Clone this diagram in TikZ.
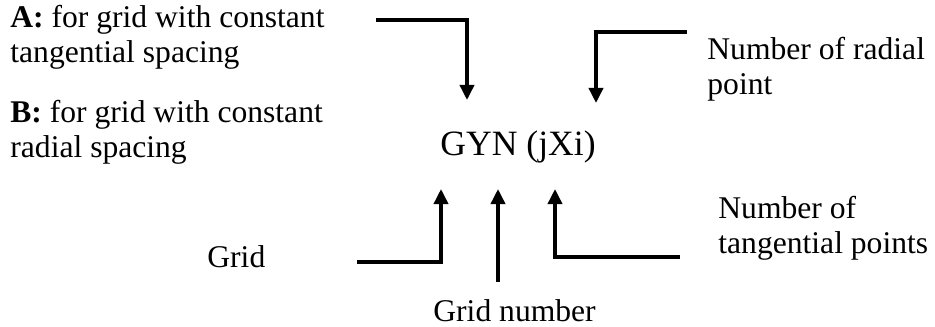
\documentclass[tikz,border=0pt]{standalone}
\usepackage{fontspec}
\setmainfont{Liberation Serif}
\usetikzlibrary{arrows.meta, positioning}

\begin{document}
\begin{tikzpicture}[x=0.5pt, y=-0.5pt]
\tikzstyle{note} = [anchor=base west, inner sep=0pt, align=left, font=\fontsize{15.8}{17.5}\selectfont]
\tikzstyle{code} = [anchor=base west, inner sep=0pt, font=\fontsize{17.8}{20}\selectfont]
\tikzstyle{arrow} = [line width=1.75pt, -{Triangle[length=7.5pt, width=7pt]}]

\useasboundingbox (0,0) rectangle (935,326);

% texts (multi-line nodes sit on their last baseline)
\node (typea) [note] at (10,63) {\textbf{A:} for grid with constant\\tangential spacing};
\node (typeb) [note] at (10,157) {\textbf{B:} for grid with constant\\radial spacing};
\node (gyn) [code] at (440,155) {GYN (jXi)};
\node (radial) [note] at (707,95) {Number of radial\\point};
\node (tang) [note] at (718,253) {Number of\\tangential points};
\node (grid) [note] at (207,267) {Grid};
\node (gridno) [note] at (433,321) {Grid number};

% arrow ends
\coordinate (typesrc) at (376,20);
\coordinate (typebend) at (467,20);
\coordinate (typetip) at (467,100);
\coordinate (radsrc) at (687,32);
\coordinate (radbend) at (596,32);
\coordinate (radtip) at (596,103);
\coordinate (gridsrc) at (357,262);
\coordinate (gridbend) at (441,262);
\coordinate (gridtip) at (441,189);
\coordinate (nosrc) at (498,282);
\coordinate (notip) at (498,189);
\coordinate (tangsrc) at (680,257);
\coordinate (tangbend) at (555,257);
\coordinate (tangtip) at (555,189);

\draw [arrow] (typesrc) -- (typebend) -- (typetip);
\draw [arrow] (radsrc) -- (radbend) -- (radtip);
\draw [arrow] (gridsrc) -- (gridbend) -- (gridtip);
\draw [arrow] (nosrc) -- (notip);
\draw [arrow] (tangsrc) -- (tangbend) -- (tangtip);
\end{tikzpicture}
\end{document}
